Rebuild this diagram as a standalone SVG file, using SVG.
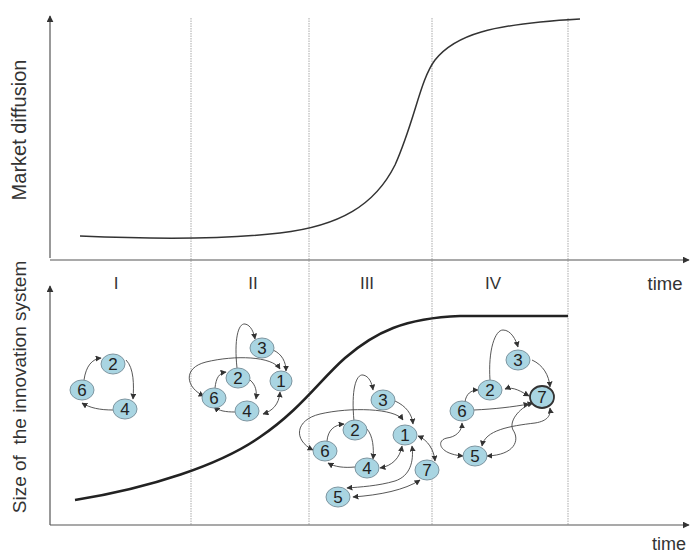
<svg xmlns="http://www.w3.org/2000/svg" width="691" height="554" viewBox="0 0 691 554">
<style>
text{font-family:"Liberation Sans",Arial,sans-serif;fill:#333}
.ax{stroke:#555;stroke-width:1.2;fill:none}
.div{stroke:#aaa;stroke-width:1;stroke-dasharray:1.5 1;fill:none}
.e{stroke:#444;stroke-width:0.9;fill:none}
.n ellipse{fill:#a9d5e2;stroke:#7d95a0;stroke-width:1}
.n text{font-size:17px;fill:#222;text-anchor:middle}
.rn{font-size:17px;text-anchor:middle}
</style>
<defs>
<marker id="ah" viewBox="0 0 10 10" refX="9" refY="5" markerWidth="6" markerHeight="6" markerUnits="userSpaceOnUse" orient="auto-start-reverse"><path d="M0,0 L10,5 L0,10 z" fill="#333"/></marker>
<marker id="axa" viewBox="0 0 10 10" refX="9" refY="5" markerWidth="7" markerHeight="7" markerUnits="userSpaceOnUse" orient="auto"><path d="M0,0 L10,5 L0,10 z" fill="#333"/></marker>
</defs>
<rect width="691" height="554" fill="#fff"/>
<g id="axes">
<line class="div" x1="191" y1="18" x2="191" y2="525"/>
<line class="div" x1="309" y1="18" x2="309" y2="525"/>
<line class="div" x1="432" y1="18" x2="432" y2="525"/>
<line class="div" x1="568" y1="18" x2="568" y2="525"/>
<path class="ax" d="M50,258 L50,16" marker-end="url(#axa)"/>
<path class="ax" d="M50,260 L689,260" marker-end="url(#axa)"/>
<path class="ax" d="M50,525 L50,286" marker-end="url(#axa)"/>
<path class="ax" d="M50,525 L689,525" marker-end="url(#axa)"/>
<text x="26" y="130" font-size="20" text-anchor="middle" transform="rotate(-90 26 130)">Market diffusion</text>
<text x="26" y="387" font-size="19" text-anchor="middle" transform="rotate(-90 26 387)" xml:space="preserve">Size of  the innovation system</text>
<text x="665" y="290" font-size="18.5" text-anchor="middle">time</text>
<text x="669" y="550" font-size="18" text-anchor="middle">time</text>
<text class="rn" x="116" y="289">I</text>
<text class="rn" x="253" y="289">II</text>
<text class="rn" x="367" y="289">III</text>
<text class="rn" x="493" y="289">IV</text>
<path d="M80,236 C150,239 220,240 280,233 C340,226 375,205 395,165 C415,120 420,80 435,60 C455,35 490,24 580,19" stroke="#333" stroke-width="1.5" fill="none"/>
<path d="M75,500 C150,488 220,465 260,437 C300,410 320,380 345,358 C375,332 405,318 460,316 L568,316" stroke="#222" stroke-width="2.6" fill="none"/>
</g>
<g id="connectors">
<!-- I -->
<path class="e" d="M84,380 C86,366 92,359 101,358" marker-end="url(#ah)"/>
<path class="e" d="M126,360 C134,368 134,385 133,399" marker-end="url(#ah)"/>
<path class="e" d="M113,410 C100,410 90,408 82,403" marker-end="url(#ah)"/>
<!-- II -->
<path class="e" d="M237,368 C234,340 238,323 245,324 C251,325 254,333 255,339" marker-end="url(#ah)"/>
<path class="e" d="M273,350 C282,354 286,362 286,371" marker-end="url(#ah)"/>
<path class="e" d="M250,380 C256,385 257,392 256,399" marker-end="url(#ah)"/>
<path class="e" d="M215,388 C216,378 219,373 226,372" marker-end="url(#ah)"/>
<path class="e" d="M235,412 C226,412 219,411 214,407" marker-end="url(#ah)"/>
<path class="e" d="M263,414 C272,411 279,405 280,392" marker-start="url(#ah)" marker-end="url(#ah)"/>
<path class="e" d="M204,396 C186,388 182,368 206,362 C235,355 272,356 280,369" marker-start="url(#ah)" marker-end="url(#ah)"/>
<!-- III -->
<path class="e" d="M354,421 C351,390 356,374 363,375 C369,376 372,383 373,390" marker-end="url(#ah)"/>
<path class="e" d="M395,401 C406,406 412,414 413,424" marker-end="url(#ah)"/>
<path class="e" d="M313,450 C293,440 295,420 320,414 C350,407 395,408 403,420" marker-start="url(#ah)" marker-end="url(#ah)"/>
<path class="e" d="M327,441 C328,430 334,425 344,424" marker-end="url(#ah)"/>
<path class="e" d="M367,429 C373,436 374,448 373,459" marker-end="url(#ah)"/>
<path class="e" d="M355,467 C344,468 335,467 328,463" marker-end="url(#ah)"/>
<path class="e" d="M380,468 C392,466 400,458 402,446" marker-start="url(#ah)" marker-end="url(#ah)"/>
<path class="e" d="M418,436 C428,440 434,450 435,461" marker-start="url(#ah)" marker-end="url(#ah)"/>
<path class="e" d="M412,446 C414,462 410,476 395,481 C378,486 360,487 347,488" marker-start="url(#ah)" marker-end="url(#ah)"/>
<path class="e" d="M353,497 C380,495 405,490 420,480" marker-start="url(#ah)" marker-end="url(#ah)"/>
<!-- IV -->
<path class="e" d="M490,380 C488,350 495,330 503,330 C511,330 516,340 518,347" marker-end="url(#ah)"/>
<path class="e" d="M532,360 C543,365 549,375 550,387" marker-end="url(#ah)"/>
<path class="e" d="M505,389 C513,386 522,392 529,396" marker-start="url(#ah)" marker-end="url(#ah)"/>
<path class="e" d="M465,402 C466,394 471,390 478,390" marker-end="url(#ah)"/>
<path class="e" d="M474,410 C495,409 512,407 529,404" marker-end="url(#ah)"/>
<path class="e" d="M462,423 C462,432 455,437 447,438 C436,440 438,454 463,456" marker-start="url(#ah)" marker-end="url(#ah)"/>
<path class="e" d="M482,446 C485,430 510,426 535,423 C548,421 551,415 550,408" marker-start="url(#ah)" marker-end="url(#ah)"/>
<path class="e" d="M487,456 C515,455 520,440 513,430 C508,420 522,406 533,403" marker-start="url(#ah)" marker-end="url(#ah)"/>
</g>
<g id="nodeI2" class="n"><ellipse cx="113" cy="364" rx="12" ry="10"/><text x="113" y="370">2</text></g>
<g id="nodeI6" class="n"><ellipse cx="82" cy="390" rx="12" ry="10"/><text x="82" y="396">6</text></g>
<g id="nodeI4" class="n"><ellipse cx="125" cy="409" rx="12" ry="10"/><text x="125" y="415">4</text></g>
<g id="nodeII3" class="n"><ellipse cx="262" cy="348" rx="12" ry="10"/><text x="262" y="354">3</text></g>
<g id="nodeII2" class="n"><ellipse cx="238" cy="378" rx="12" ry="10"/><text x="238" y="384">2</text></g>
<g id="nodeII1" class="n"><ellipse cx="281" cy="381" rx="11" ry="10"/><text x="281" y="387">1</text></g>
<g id="nodeII6" class="n"><ellipse cx="214" cy="398" rx="12" ry="10"/><text x="214" y="404">6</text></g>
<g id="nodeII4" class="n"><ellipse cx="247" cy="411" rx="12" ry="10"/><text x="247" y="417">4</text></g>
<g id="nodeIII3" class="n"><ellipse cx="383" cy="400" rx="12" ry="10"/><text x="383" y="406">3</text></g>
<g id="nodeIII2" class="n"><ellipse cx="355" cy="430" rx="12" ry="10"/><text x="355" y="436">2</text></g>
<g id="nodeIII1" class="n"><ellipse cx="405" cy="435" rx="12" ry="10"/><text x="405" y="441">1</text></g>
<g id="nodeIII6" class="n"><ellipse cx="325" cy="451" rx="12" ry="10"/><text x="325" y="457">6</text></g>
<g id="nodeIII4" class="n"><ellipse cx="367" cy="468" rx="12" ry="10"/><text x="367" y="474">4</text></g>
<g id="nodeIII7" class="n"><ellipse cx="427" cy="470" rx="12" ry="10"/><text x="427" y="476">7</text></g>
<g id="nodeIII5" class="n"><ellipse cx="338" cy="497" rx="12" ry="10"/><text x="338" y="503">5</text></g>
<g id="nodeIV3" class="n"><ellipse cx="518" cy="360" rx="12" ry="10"/><text x="518" y="366">3</text></g>
<g id="nodeIV2" class="n"><ellipse cx="490" cy="390" rx="12" ry="10"/><text x="490" y="396">2</text></g>
<g id="nodeIV7" class="n"><ellipse cx="542" cy="397" rx="12" ry="11" style="stroke:#333;stroke-width:1.8"/><text x="542" y="403">7</text></g>
<g id="nodeIV6" class="n"><ellipse cx="462" cy="411" rx="12" ry="10"/><text x="462" y="417">6</text></g>
<g id="nodeIV5" class="n"><ellipse cx="475" cy="456" rx="12" ry="10"/><text x="475" y="462">5</text></g>
</svg>
